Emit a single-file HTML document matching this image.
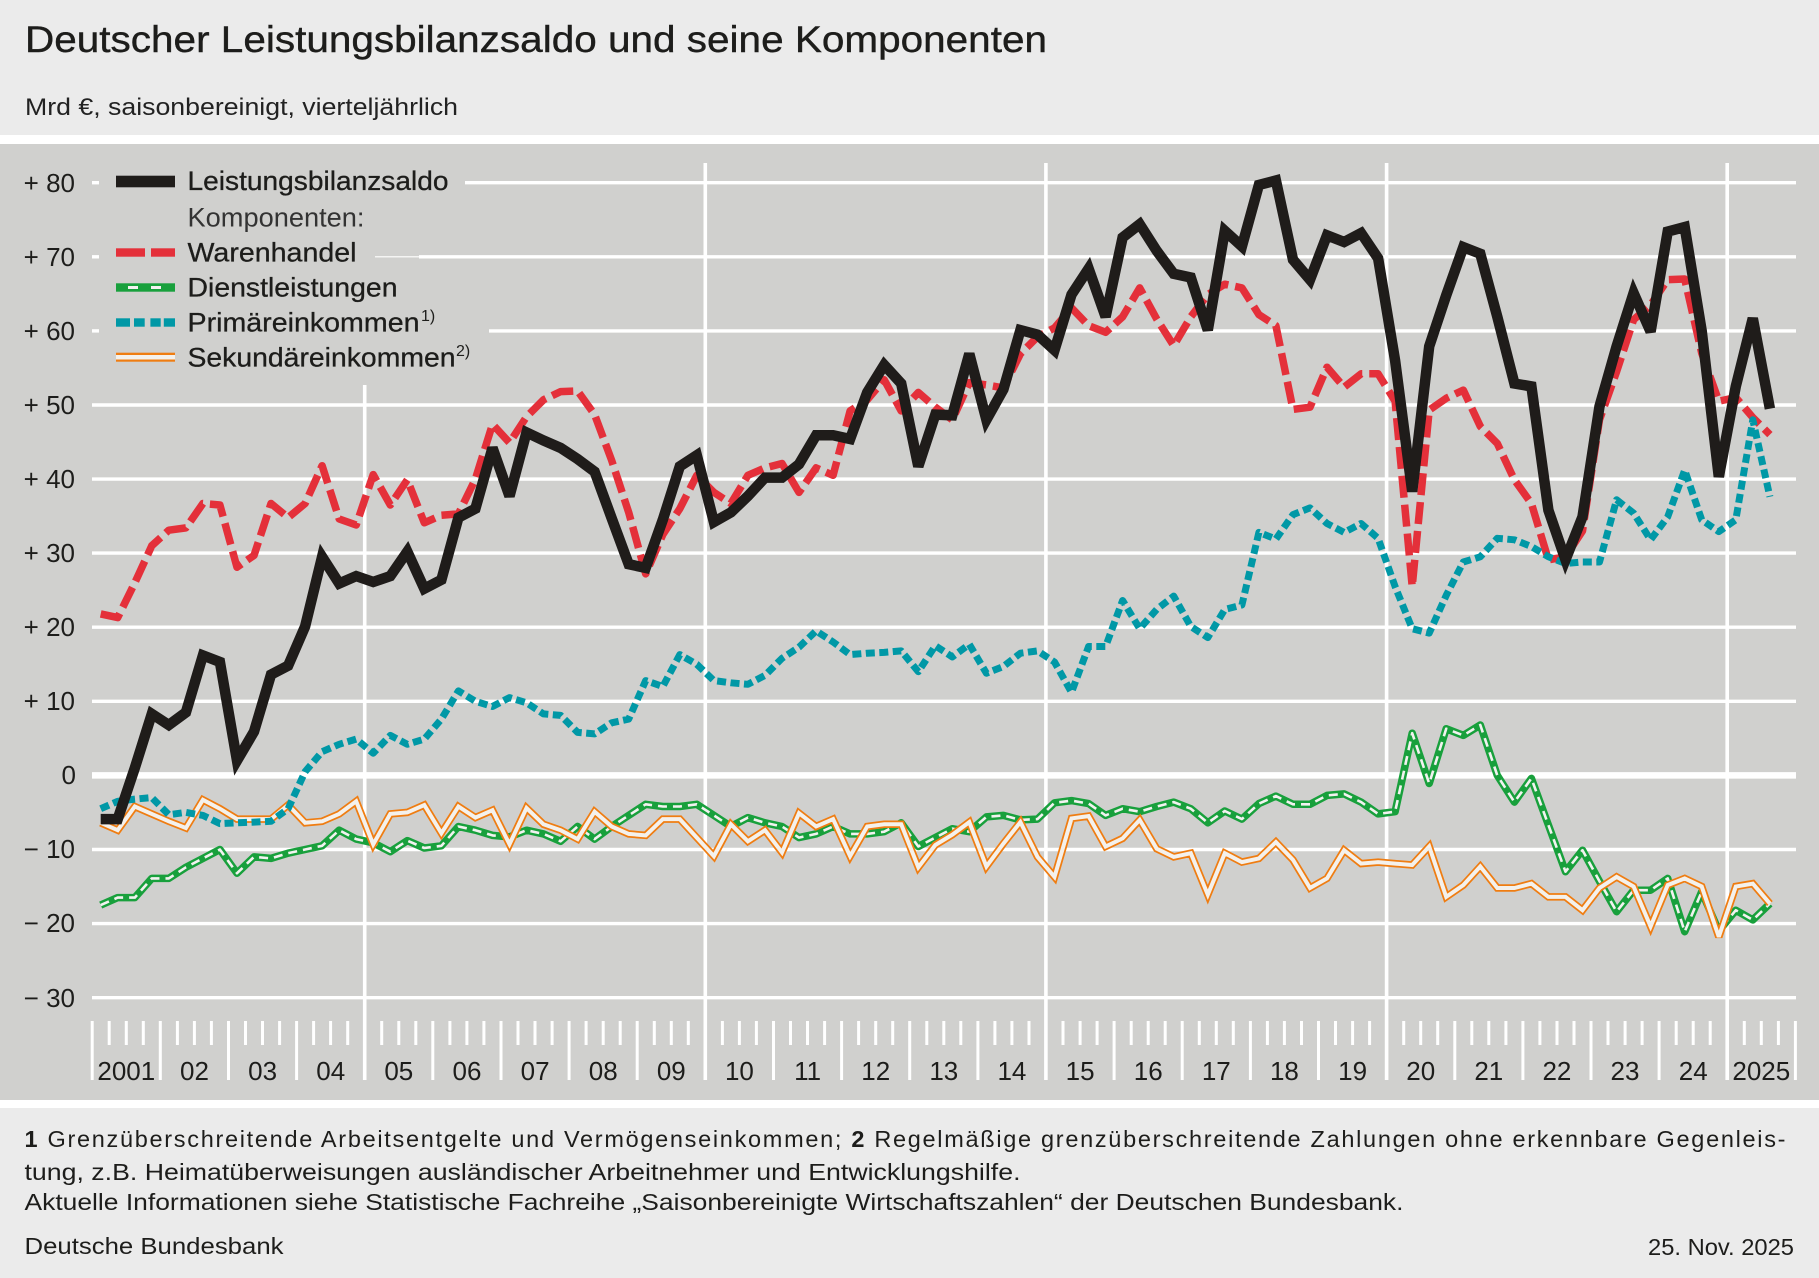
<!DOCTYPE html>
<html>
<head>
<meta charset="utf-8">
<style>
html,body{margin:0;padding:0;background:#ebebeb;}
svg{display:block;font-family:"Liberation Sans",sans-serif;}
</style>
</head>
<body>
<svg id="chart" width="1819" height="1278" viewBox="0 0 1819 1278" xmlns="http://www.w3.org/2000/svg">
  <!-- backgrounds -->
  <rect x="0" y="0" width="1819" height="135" fill="#ebebeb"/>
  <rect x="0" y="135" width="1819" height="9" fill="#ffffff"/>
  <rect x="0" y="144" width="1819" height="956" fill="#d0d0ce"/>
  <rect x="0" y="1100" width="1819" height="8" fill="#ffffff"/>
  <rect x="0" y="1108" width="1819" height="170" fill="#ebebeb"/>

  <!-- title -->
  <text x="25" y="52" font-size="37" fill="#1d1d1b" stroke="#1d1d1b" stroke-width="0.4" textLength="1022" lengthAdjust="spacingAndGlyphs">Deutscher Leistungsbilanzsaldo und seine Komponenten</text>
  <text x="25" y="115" font-size="24" fill="#222" textLength="433" lengthAdjust="spacingAndGlyphs">Mrd €, saisonbereinigt, vierteljährlich</text>

  <!-- horizontal gridlines -->
  <g stroke="#ffffff" stroke-width="3.4" fill="none">
    <line x1="92" y1="182.7" x2="99" y2="182.7"/>
    <line x1="465" y1="182.7" x2="1796" y2="182.7"/>
    <line x1="92" y1="256.8" x2="99" y2="256.8"/>
    <line x1="419" y1="256.8" x2="1796" y2="256.8"/>
    <line x1="92" y1="330.9" x2="99" y2="330.9"/>
    <line x1="489" y1="330.9" x2="1796" y2="330.9"/>
    <line x1="92" y1="405.0" x2="1796" y2="405.0"/>
    <line x1="92" y1="479.1" x2="1796" y2="479.1"/>
    <line x1="92" y1="553.1" x2="1796" y2="553.1"/>
    <line x1="92" y1="627.2" x2="1796" y2="627.2"/>
    <line x1="92" y1="701.3" x2="1796" y2="701.3"/>
    <line x1="92" y1="849.5" x2="1796" y2="849.5"/>
    <line x1="92" y1="923.6" x2="1796" y2="923.6"/>
    <line x1="92" y1="997.7" x2="1796" y2="997.7"/>
  </g>
  <line x1="375" y1="256.8" x2="419" y2="256.8" stroke="#ffffff" stroke-width="1.2"/>
  <line x1="92" y1="775.4" x2="1796" y2="775.4" stroke="#ffffff" stroke-width="6.5"/>

  <!-- vertical 5-year lines -->
  <g stroke="#ffffff" stroke-width="3.6">
    <line x1="364.7" y1="385" x2="364.7" y2="1080"/>
    <line x1="705.3" y1="163" x2="705.3" y2="1080"/>
    <line x1="1045.9" y1="163" x2="1045.9" y2="1080"/>
    <line x1="1386.6" y1="163" x2="1386.6" y2="1080"/>
    <line x1="1727.2" y1="163" x2="1727.2" y2="1080"/>
  </g>

  <!-- ticks (generated) -->
  <g id="ticks" fill="#ffffff"></g>

  <!-- y labels -->
  <g font-size="26" fill="#1d1d1b" text-anchor="end">
    <text x="75" y="192">+ 80</text>
    <text x="75" y="266">+ 70</text>
    <text x="75" y="340">+ 60</text>
    <text x="75" y="414">+ 50</text>
    <text x="75" y="488">+ 40</text>
    <text x="75" y="562">+ 30</text>
    <text x="75" y="636">+ 20</text>
    <text x="75" y="710">+ 10</text>
    <text x="76" y="784">0</text>
    <text x="75" y="858">− 10</text>
    <text x="75" y="932">− 20</text>
    <text x="75" y="1007">− 30</text>
  </g>

  <!-- x labels -->
  <g font-size="26" fill="#1d1d1b" text-anchor="middle">
    <text x="126.3" y="1080">2001</text>
    <text x="194.5" y="1080">02</text>
    <text x="262.6" y="1080">03</text>
    <text x="330.7" y="1080">04</text>
    <text x="398.8" y="1080">05</text>
    <text x="467.0" y="1080">06</text>
    <text x="535.1" y="1080">07</text>
    <text x="603.2" y="1080">08</text>
    <text x="671.3" y="1080">09</text>
    <text x="739.4" y="1080">10</text>
    <text x="807.6" y="1080">11</text>
    <text x="875.7" y="1080">12</text>
    <text x="943.8" y="1080">13</text>
    <text x="1011.9" y="1080">14</text>
    <text x="1080.1" y="1080">15</text>
    <text x="1148.2" y="1080">16</text>
    <text x="1216.3" y="1080">17</text>
    <text x="1284.4" y="1080">18</text>
    <text x="1352.6" y="1080">19</text>
    <text x="1420.7" y="1080">20</text>
    <text x="1488.8" y="1080">21</text>
    <text x="1556.9" y="1080">22</text>
    <text x="1625.0" y="1080">23</text>
    <text x="1693.2" y="1080">24</text>
    <text x="1761.3" y="1080">2025</text>
  </g>

  <!-- series (generated) -->
  <g id="series"></g>

  <!-- legend -->
  <rect x="116" y="175.7" width="59" height="11.6" fill="#1f1c1a"/>
  <rect x="116" y="248.3" width="29" height="8.4" fill="#e4303a"/>
  <rect x="151" y="248.3" width="24" height="8.4" fill="#e4303a"/>
  <rect x="116" y="283.3" width="59" height="8.4" fill="#18a03c"/>
  <rect x="128" y="286" width="10" height="3" fill="#f2f2f0"/>
  <rect x="151" y="286" width="10" height="3" fill="#f2f2f0"/>
  <rect x="116" y="318.3" width="14" height="8.4" fill="#0098a6"/>
  <rect x="134" y="318.3" width="10.7" height="8.4" fill="#0098a6"/>
  <rect x="150.4" y="318.3" width="10.3" height="8.4" fill="#0098a6"/>
  <rect x="163.8" y="318.3" width="11.2" height="8.4" fill="#0098a6"/>
  <rect x="116" y="352.7" width="59" height="9" fill="#ef7d12"/>
  <rect x="116" y="355" width="59" height="4.5" fill="#f4f1ec"/>

  <g font-size="27" fill="#1d1d1b">
    <text x="187.5" y="190" stroke="#1d1d1b" stroke-width="0.3" textLength="261" lengthAdjust="spacingAndGlyphs">Leistungsbilanzsaldo</text>
    <text x="187.5" y="226.7" fill="#333" textLength="177" lengthAdjust="spacingAndGlyphs">Komponenten:</text>
    <text x="187.5" y="261.7" stroke="#1d1d1b" stroke-width="0.3" textLength="169" lengthAdjust="spacingAndGlyphs">Warenhandel</text>
    <text x="187.5" y="296.7" stroke="#1d1d1b" stroke-width="0.3" textLength="210" lengthAdjust="spacingAndGlyphs">Dienstleistungen</text>
    <text x="187.5" y="331.7" stroke="#1d1d1b" stroke-width="0.3" textLength="232" lengthAdjust="spacingAndGlyphs">Primäreinkommen</text>
    <text x="421" y="321" font-size="16">1)</text>
    <text x="187.5" y="366.7" stroke="#1d1d1b" stroke-width="0.3" textLength="268" lengthAdjust="spacingAndGlyphs">Sekundäreinkommen</text>
    <text x="456" y="356" font-size="16">2)</text>
  </g>

  <!-- footnotes -->
  <g font-size="23.5" fill="#1d1d1b">
    <text x="24.5" y="1147" textLength="1761" lengthAdjust="spacing"><tspan font-weight="bold">1</tspan> Grenzüberschreitende Arbeitsentgelte und Vermögenseinkommen; <tspan font-weight="bold">2</tspan> Regelmäßige grenzüberschreitende Zahlungen ohne erkennbare Gegenleis-</text>
    <text x="24.5" y="1180" textLength="996" lengthAdjust="spacingAndGlyphs">tung, z.B. Heimatüberweisungen ausländischer Arbeitnehmer und Entwicklungshilfe.</text>
    <text x="24.5" y="1210" textLength="1379" lengthAdjust="spacingAndGlyphs">Aktuelle Informationen siehe Statistische Fachreihe „Saisonbereinigte Wirtschaftszahlen“ der Deutschen Bundesbank.</text>
    <text x="24.5" y="1254" textLength="259" lengthAdjust="spacingAndGlyphs">Deutsche Bundesbank</text>
    <text x="1794" y="1255" text-anchor="end" textLength="146" lengthAdjust="spacingAndGlyphs">25. Nov. 2025</text>
  </g>
</svg>
<script>
(function(){
  var NS="http://www.w3.org/2000/svg";
  var X0=92.2, QW=17.032;
  function X(i){return X0+(i+0.5)*QW;}
  function Y(v){return 775.4-v*7.409;}
  function pts(a){return a.map(function(v,i){return X(i).toFixed(1)+","+Y(v).toFixed(1);}).join(" ");}
  var LB=[-5.9,-5.9,1.0,8.3,6.8,8.5,16.2,15.3,2.0,5.9,13.6,14.8,20.1,29.5,25.9,26.9,26.1,26.9,30.2,25.2,26.4,34.8,36.0,44.2,37.7,46.3,45.2,44.2,42.7,41.0,34.7,28.5,28.0,34.5,41.7,43.2,34.2,35.5,37.7,40.2,40.2,42.0,45.9,45.9,45.4,51.7,55.4,52.9,41.7,48.7,48.6,56.9,48.0,52.1,60.1,59.5,57.4,64.9,68.4,61.9,72.6,74.4,70.8,67.7,67.2,60.1,73.5,71.4,79.7,80.3,69.6,66.9,72.9,72.0,73.2,69.8,56.0,38.3,57.9,64.8,71.3,70.4,61.9,52.9,52.5,35.8,29.1,34.9,49.8,57.9,65.1,59.9,73.4,74.0,60.0,40.3,52.5,61.7,49.5];
  var WH=[21.8,21.3,26,31.0,33.1,33.4,36.7,36.5,28.1,29.7,36.7,34.8,36.7,41.8,34.6,33.8,40.6,36.5,39.9,34.1,35.1,35.3,40,47.4,44.9,48.4,50.7,51.8,51.9,48.7,42.5,35.5,27.2,32.5,36.0,40.5,38.2,36.7,40.5,41.5,42.1,38.2,41.5,40.5,49.2,50.7,53.4,49.2,51.7,49.7,48.0,53.0,52.7,52.3,56.9,59.2,60.4,63.1,60.7,59.8,61.9,65.8,61.6,58.0,61.9,64.9,66.3,65.8,62.2,60.7,49.4,49.7,55.1,52.4,54.2,54.2,50.5,25.5,49.3,50.9,52.0,47.1,44.8,39.9,36.7,29.1,29.5,33,48,54.5,61.5,63.5,66.9,67,57,50.5,51,48.3,46];
  var PE=[-4.5,-3.5,-3.2,-3.0,-5.3,-5.0,-5.4,-6.5,-6.4,-6.3,-6.2,-4.5,0.5,3.2,4.2,4.9,3.0,5.4,4.2,4.9,7.6,11.4,10.0,9.3,10.5,9.8,8.3,8.1,5.8,5.6,7.1,7.6,12.8,12.0,16.3,15.0,12.8,12.5,12.3,13.5,15.8,17.3,19.5,18.0,16.3,16.5,16.6,16.8,14.0,17.5,16.0,17.7,13.8,14.7,16.5,16.8,15.3,11.2,17.4,17.4,23.6,19.8,22.4,24.2,20.1,18.6,22.4,23.0,32.8,31.9,35.2,36.1,34.0,32.8,34.0,32.0,25.5,19.8,19.2,24.3,28.8,29.5,32.0,31.8,30.9,29.5,28.6,28.8,28.8,37.2,35.4,31.8,34.9,41.2,34.5,32.9,34.5,48.0,37.6];
  var DL=[-17.5,-16.5,-16.5,-13.9,-13.9,-12.4,-11.2,-10.0,-13.2,-11.0,-11.2,-10.5,-10.0,-9.5,-7.4,-8.6,-9.1,-10.3,-8.8,-9.8,-9.5,-6.9,-7.4,-8.1,-8.3,-7.4,-7.9,-8.9,-6.9,-8.6,-6.9,-5.4,-3.9,-4.2,-4.2,-3.9,-5.4,-6.9,-5.7,-6.4,-6.9,-8.4,-7.9,-6.9,-7.9,-7.9,-7.6,-6.4,-9.6,-8.4,-7.2,-7.6,-5.6,-5.4,-6.0,-5.9,-3.7,-3.4,-3.8,-5.4,-4.5,-4.9,-4.2,-3.6,-4.5,-6.4,-4.8,-5.9,-3.8,-2.8,-3.9,-3.9,-2.7,-2.5,-3.6,-5.2,-4.9,5.7,-1.1,6.3,5.4,6.8,0.0,-3.6,-0.4,-6.7,-13.0,-10.1,-14.3,-18.4,-15.5,-15.5,-13.9,-21.1,-15.7,-21.0,-18.2,-19.5,-17.3];
  var SE=[-6.4,-7.4,-4.2,-5.2,-6.2,-7.1,-3.3,-4.5,-5.9,-5.9,-5.9,-4.0,-6.4,-6.2,-5.2,-3.5,-9.3,-5.2,-5.0,-4.0,-7.8,-4.2,-5.7,-4.7,-9.3,-4.4,-6.6,-7.4,-8.6,-4.9,-6.9,-7.9,-8.1,-5.9,-5.9,-8.4,-10.9,-6.6,-8.9,-7.4,-10.4,-5.1,-6.9,-5.9,-10.9,-6.9,-6.6,-6.6,-12.4,-9.4,-8.0,-6.3,-12.3,-9.2,-6.3,-11.0,-13.7,-5.8,-5.5,-9.6,-8.5,-6.0,-9.9,-11.0,-10.5,-16.1,-10.5,-11.7,-11.2,-9.0,-11.4,-15.2,-13.9,-10.1,-11.9,-11.7,-11.9,-12.1,-9.6,-16.4,-14.8,-12.3,-15.2,-15.2,-14.6,-16.4,-16.4,-18.2,-15.2,-13.7,-15.0,-20.4,-14.8,-13.9,-15.0,-21.8,-15.0,-14.6,-17.3];

  var g=document.getElementById("series");
  function line(data,attrs){
    var p=document.createElementNS(NS,"polyline");
    p.setAttribute("points",pts(data));
    p.setAttribute("fill","none");
    for(var k in attrs){p.setAttribute(k,attrs[k]);}
    g.appendChild(p);
  }
  line(DL,{"stroke":"#18a03c","stroke-width":"7.5","stroke-linejoin":"round"});
  line(DL,{"stroke":"#f2f2f0","stroke-width":"2.6","stroke-dasharray":"9 6","stroke-linejoin":"round"});
  line(SE,{"stroke":"#ef7d12","stroke-width":"7.5","stroke-linejoin":"miter","stroke-miterlimit":"3"});
  line(SE,{"stroke":"#f4f1ec","stroke-width":"4","stroke-linejoin":"miter","stroke-miterlimit":"3"});
  line(WH,{"stroke":"#e4303a","stroke-width":"7.5","stroke-dasharray":"22 7","stroke-linejoin":"round"});
  line(PE,{"stroke":"#0098a6","stroke-width":"7","stroke-dasharray":"9 4.5","stroke-linejoin":"round"});
  line(LB,{"stroke":"#1f1c1a","stroke-width":"10.5","stroke-linejoin":"miter","stroke-miterlimit":"3"});

  var t=document.getElementById("ticks");
  for(var k=0;k<=25;k++){
    var x=X0+k*4*QW;
    var r=document.createElementNS(NS,"rect");
    r.setAttribute("x",(x-1.5).toFixed(1));r.setAttribute("y","1021");
    r.setAttribute("width","3");r.setAttribute("height","59");
    t.appendChild(r);
    if(k<25){
      for(var q=1;q<4;q++){
        var xm=x+q*QW;
        var m=document.createElementNS(NS,"rect");
        m.setAttribute("x",(xm-1.5).toFixed(1));m.setAttribute("y","1021");
        m.setAttribute("width","3");m.setAttribute("height","24");
        t.appendChild(m);
      }
    }
  }
})();
</script>
</body>
</html>
